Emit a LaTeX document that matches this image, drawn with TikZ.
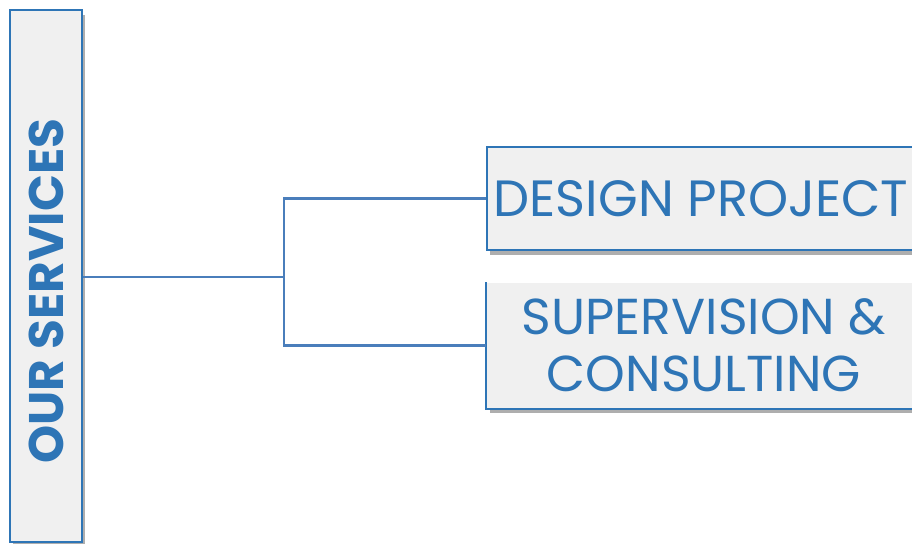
\documentclass[tikz,border=0pt]{standalone}
\usepackage{fontspec}
\setmainfont{Poppins}
\usetikzlibrary{shadows}

\definecolor{svblue}{RGB}{46,117,182}
\definecolor{svline}{RGB}{74,126,187}
\definecolor{svfill}{RGB}{240,240,240}

\tikzset{every picture/.style={line width=2pt}}
\tikzset{
  svbox/.style={draw=svblue, fill=svfill, line width=2pt, inner sep=0pt,
    drop shadow={shadow xshift=3pt, shadow yshift=-5pt, opacity=0.45, fill=black!70}},
  svtext/.style={text=svblue, inner sep=0pt, align=center},
  svlink/.style={draw=svline, line width=2.5pt}
}

\begin{document}
\begin{tikzpicture}[x=1pt,y=1pt,yscale=-1,xscale=1]
\useasboundingbox (0,0) rectangle (912,543);

% Left box
\node [svbox, minimum width=72pt, minimum height=532pt] (services) at (46,276) {};
\node [svtext, rotate=90, font=\bfseries\fontsize{48.5}{48.5}\selectfont] (servicesText) at (46,291) {OUR SERVICES};

% Right boxes
\node [svbox, minimum width=431pt, minimum height=103pt] (design) at (702.5,198.5) {};
\node [svtext, font=\fontsize{51}{51}\selectfont] (designText) at (701,199) {DESIGN PROJECT};

\node [svbox, draw=none, minimum width=431pt, minimum height=125pt] (superv) at (702.5,345.5) {};
\draw [svblue, line width=2pt] (superv.north west) -- (superv.south west) -- (superv.south east);
\node [svtext, font=\fontsize{50.5}{57}\selectfont] (supervText) at (704,345) {SUPERVISION \&\\CONSULTING};

% Connectors
\coordinate (fork) at (284,277);
\draw [svlink] (fork -| services.east) -- (fork);
\draw [svlink] (design.west) -| (fork) |- (superv.west);
\end{tikzpicture}
\end{document}
